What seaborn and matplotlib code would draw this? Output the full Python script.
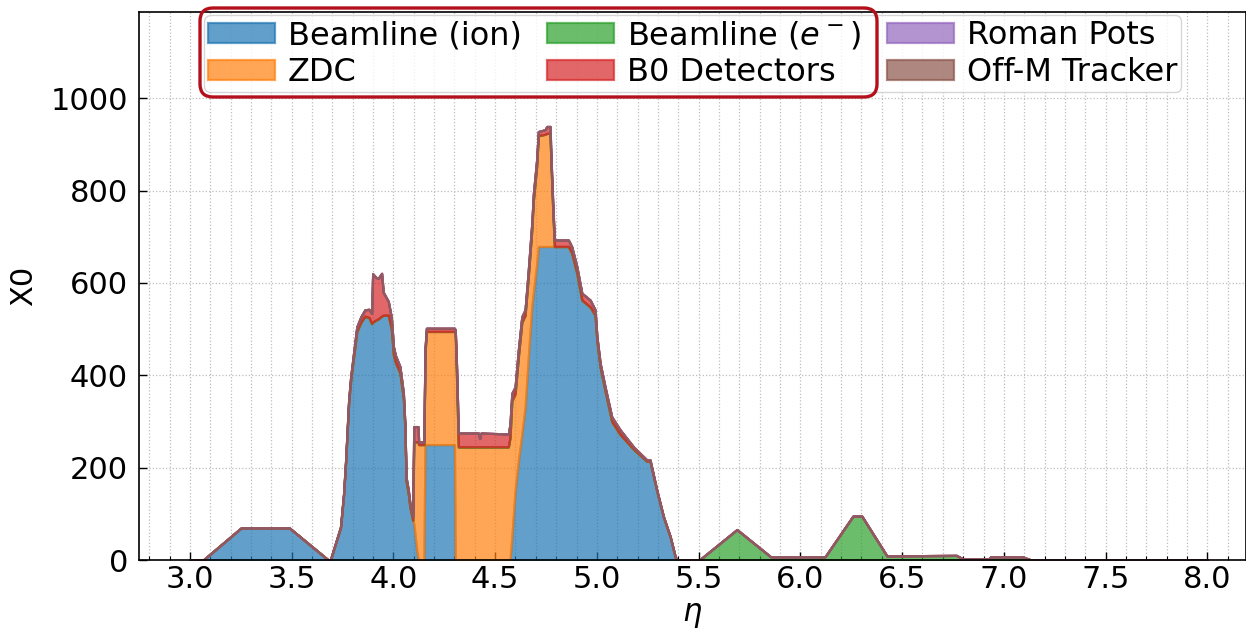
import matplotlib
matplotlib.use("Agg")
import matplotlib.pyplot as plt
import seaborn as sns
from matplotlib.patches import FancyBboxPatch
from matplotlib.ticker import MultipleLocator

# eta grid (breakpoints)
eta = [3.000, 3.065, 3.250, 3.490, 3.680, 3.690, 3.740, 3.755, 3.765, 3.780,
       3.790, 3.800, 3.820, 3.840, 3.860, 3.880, 3.893, 3.898, 3.915, 3.925,
       3.942, 3.950, 3.975, 3.990, 4.000, 4.010, 4.032, 4.049, 4.057, 4.062,
       4.073, 4.081, 4.095, 4.100, 4.115, 4.121, 4.124, 4.150, 4.155, 4.162,
       4.300, 4.304, 4.311, 4.319, 4.418, 4.424, 4.430, 4.565, 4.573, 4.582,
       4.598, 4.614, 4.631, 4.647, 4.663, 4.680, 4.688, 4.704, 4.712, 4.745,
       4.754, 4.770, 4.773, 4.783, 4.791, 4.860, 4.876, 4.901, 4.926, 4.967,
       4.991, 5.000, 5.016, 5.040, 5.073, 5.114, 5.180, 5.245, 5.261, 5.294,
       5.327, 5.360, 5.385, 5.395, 5.503, 5.688, 5.854, 6.121, 6.258, 6.302,
       6.425, 6.767, 6.800, 6.925, 6.935, 7.090, 7.135, 8.000]

beamline_ion = [0, 0, 69, 69, 0, 0, 70, 140, 210, 340,
                390, 425, 495, 515, 528, 525, 512, 515, 520, 522,
                528, 530, 530, 500, 445, 428, 405, 350, 280, 172,
                144, 115, 86, 80, 20, 4, 0, 0, 250, 250,
                250, 0, 0, 0, 0, 0, 0, 0, 0, 50,
                150, 215, 272, 330, 440, 549, 580, 640, 679, 679,
                679, 679, 679, 679, 679, 679, 665, 622, 563, 548,
                530, 474, 418, 367, 300, 272, 240, 214, 214, 150,
                93, 50, 6, 0, 0, 0, 0, 0, 0, 0,
                0, 0, 0, 0, 0, 0, 0, 0]

zdc = [0, 0, 0, 0, 0, 0, 0, 0, 0, 0,
       0, 0, 0, 0, 0, 0, 0, 0, 0, 0,
       0, 0, 0, 0, 0, 0, 0, 0, 0, 0,
       0, 0, 0, 176, 236, 252, 250, 250, 195, 245,
       245, 490, 385, 245, 245, 245, 245, 245, 265, 295,
       210, 225, 243, 200, 175, 166, 200, 213, 240, 243,
       245, 245, 195, 80, 0, 0, 0, 0, 0, 0,
       0, 0, 0, 0, 0, 0, 0, 0, 0, 0,
       0, 0, 0, 0, 0, 0, 0, 0, 0, 0,
       0, 0, 0, 0, 0, 0, 0, 0]

beamline_e = [0, 0, 0, 0, 0, 0, 0, 0, 0, 0,
              0, 0, 0, 0, 0, 0, 0, 0, 0, 0,
              0, 0, 0, 0, 0, 0, 0, 0, 0, 0,
              0, 0, 0, 0, 0, 0, 0, 0, 0, 0,
              0, 0, 0, 0, 0, 0, 0, 0, 0, 0,
              0, 0, 0, 0, 0, 0, 0, 0, 0, 0,
              0, 0, 0, 0, 0, 0, 0, 0, 0, 0,
              0, 0, 0, 0, 0, 0, 0, 0, 0, 0,
              0, 0, 0, 0, 0, 66, 7, 7, 95, 95,
              9, 10, 2, 2, 7, 7, 0, 0]

b0 = [0, 0, 0, 0, 0, 0, 2, 3, 5, 6,
      7, 8, 10, 12, 14, 18, 22, 105, 92, 88,
      93, 50, 30, 25, 17, 15, 14, 11, 9, 8,
      8, 8, 8, 33, 33, 33, 6, 6, 10, 7,
      7, 8, 25, 30, 30, 18, 30, 28, 30, 16,
      15, 15, 12, 12, 13, 14, 14, 14, 9, 10,
      15, 15, 14, 14, 14, 14, 14, 14, 15, 15,
      12, 10, 8, 8, 10, 10, 5, 3, 3, 2,
      1, 1, 1, 0, 0, 0, 0, 0, 0, 0,
      0, 0, 0, 0, 0, 0, 0, 0]

# Roman Pots and Off-M Tracker read as zero everywhere
roman_pots = [0] * len(eta)
off_m = [0] * len(eta)

labels = ["Beamline (ion)", "ZDC", r"Beamline ($e^-$)", "B0 Detectors",
          "Roman Pots", "Off-M Tracker"]

sns.set_style("ticks")
plt.rcParams['font.family'] = ['DejaVu Sans']
plt.rcParams['text.color'] = 'black'
plt.rcParams['axes.labelcolor'] = 'black'

fig = plt.figure(figsize=(12.46, 6.31), dpi=100)
ax = fig.add_axes([0.1116, 0.1125, 0.8884, 0.8685])
colors = sns.color_palette("tab10")[:6]

polys = ax.stackplot(eta, beamline_ion, zdc, beamline_e, b0, roman_pots, off_m,
                     labels=labels, colors=colors, alpha=0.7, linewidth=1.6)
for p in polys:
    p.set_edgecolor(p.get_facecolor())

ax.set_xlim(2.75, 8.19)
ax.set_ylim(0, 1187)
ax.xaxis.set_major_locator(MultipleLocator(0.5))
ax.xaxis.set_minor_locator(MultipleLocator(0.1))
ax.yaxis.set_major_locator(MultipleLocator(200))
ax.set_axisbelow(True)
ax.grid(which='both', axis='x', ls=':', color='#bdbdbd', lw=0.9)
ax.grid(which='major', axis='y', ls=':', color='#bdbdbd', lw=0.9)
ax.tick_params(which='both', direction='in', labelsize=22, colors='black')
ax.tick_params(which='major', length=6, width=1)
ax.tick_params(which='minor', length=3, width=0.8)
ax.tick_params(axis='y', pad=8)
for s in ax.spines.values():
    s.set_color('black')
    s.set_linewidth(1.2)

ax.set_xlabel(r'$\eta$', fontsize=22, labelpad=5)
ax.set_ylabel('X0', fontsize=22, labelpad=9)

ax.legend(loc='upper center', ncol=3, fontsize=23, labelspacing=0.2,
          handlelength=2.1, handleheight=0.6, handletextpad=0.4,
          columnspacing=0.8, borderpad=0.12, borderaxespad=0.1,
          framealpha=0.8)

# red rounded highlight around the first two legend columns
box = FancyBboxPatch((2.0, 5.34), 6.77, 0.89,
                     boxstyle="round,pad=0,rounding_size=0.13",
                     transform=fig.dpi_scale_trans, fill=False,
                     edgecolor='#b3101b', lw=2.4, zorder=10)
fig.add_artist(box)

fig.savefig('out.png', dpi=100)
